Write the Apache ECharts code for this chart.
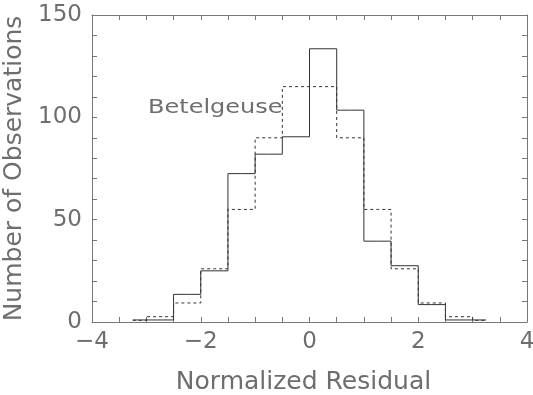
<!DOCTYPE html>
<html>
<head>
<meta charset="utf-8">
<script src="https://cdn.jsdelivr.net/npm/echarts@6/dist/echarts.min.js"></script>
<style>html,body{margin:0;padding:0;background:#fff;}#c{width:533px;height:395px;}</style>
</head>
<body>
<div id="c"></div>
<script>
// Bin centres (histogram drawn IDL psym=10 style: half-width end bins)
var binCenters = [-3.25, -2.75, -2.25, -1.75, -1.25, -0.75, -0.25, 0.25, 0.75, 1.25, 1.75, 2.25, 2.75, 3.25];
// Observed counts (solid)
var observed = [1, 1, 13.5, 25, 72.5, 82, 90.5, 133.5, 103.5, 39.5, 27.5, 8.5, 1, 1];
// Expected counts (dotted)
var expected = [0.8, 2.6, 9.3, 26, 55, 90, 115, 115, 90, 55, 26, 9.3, 2.6, 0.8];
var xTicks = [-4, -2, 0, 2, 4];
var yTicks = [0, 50, 100, 150];
var label = 'Betelgeuse';

var font = "'DejaVu Sans ExtraLight', 'DejaVu Sans'";
var textColor = '#6e6e6e';
var lineColor = '#333';
var frameColor = '#777';

function pairs(xs, ys) { return xs.map(function (x, i) { return [x, ys[i]]; }); }

var chart = echarts.init(document.getElementById('c'), null, {renderer: 'canvas'});
var tickCommon = {show: true, inside: true, length: 5, lineStyle: {color: frameColor, width: 1}};
var minorCommon = {show: true, splitNumber: 4, length: 5, lineStyle: {color: frameColor, width: 1}};
chart.setOption({
  animation: false,
  backgroundColor: '#fff',
  grid: {left: 92, right: 6, top: 15, bottom: 73, containLabel: false, outerBoundsMode: 'none'},
  xAxis: [{
    type: 'value', min: xTicks[0], max: xTicks[xTicks.length - 1], interval: 2,
    position: 'bottom',
    name: 'Normalized Residual', nameLocation: 'middle', nameGap: 48,
    nameTextStyle: {fontFamily: font, fontSize: 25, color: textColor, padding: [0, 12, 0, 0]},
    axisLine: {show: true, onZero: false, lineStyle: {color: frameColor, width: 1}},
    axisTick: tickCommon,
    minorTick: minorCommon,
    splitLine: {show: false},
    axisLabel: {fontFamily: font, fontSize: 23, color: textColor, margin: 9,
      formatter: function (v) { return v < 0 ? '\u2212' + Math.abs(v) : String(v); }}
  }, {
    type: 'value', min: xTicks[0], max: xTicks[xTicks.length - 1], interval: 2,
    position: 'top',
    axisLine: {show: true, onZero: false, lineStyle: {color: frameColor, width: 1}},
    axisTick: tickCommon, minorTick: minorCommon,
    splitLine: {show: false}, axisLabel: {show: false}
  }],
  yAxis: [{
    type: 'value', min: yTicks[0], max: yTicks[yTicks.length - 1], interval: 50,
    position: 'left',
    name: 'Number of Observations', nameLocation: 'middle', nameGap: 64,
    nameTextStyle: {fontFamily: font, fontSize: 25, color: textColor},
    axisLine: {show: true, onZero: false, lineStyle: {color: frameColor, width: 1}},
    axisTick: tickCommon,
    minorTick: {show: true, splitNumber: 5, length: 5, lineStyle: {color: frameColor, width: 1}},
    splitLine: {show: false},
    axisLabel: {fontFamily: font, fontSize: 23, color: textColor, margin: 10}
  }, {
    type: 'value', min: yTicks[0], max: yTicks[yTicks.length - 1], interval: 50,
    position: 'right',
    axisLine: {show: true, onZero: false, lineStyle: {color: frameColor, width: 1}},
    axisTick: tickCommon,
    minorTick: {show: true, splitNumber: 5, length: 5, lineStyle: {color: frameColor, width: 1}},
    splitLine: {show: false}, axisLabel: {show: false}
  }],
  series: [{
    type: 'line', step: 'middle', data: pairs(binCenters, expected),
    showSymbol: false, symbol: 'none',
    lineStyle: {color: lineColor, width: 1, type: [3, 3]}, z: 2
  }, {
    type: 'line', step: 'middle', data: pairs(binCenters, observed),
    showSymbol: false, symbol: 'none',
    lineStyle: {color: lineColor, width: 1, type: 'solid'}, z: 3
  }],
  graphic: [{
    type: 'text', x: 148, y: 98, scaleX: 1.2,
    style: {text: label, fontFamily: font, fontSize: 20, fill: textColor}
  }]
});
</script>
</body>
</html>
